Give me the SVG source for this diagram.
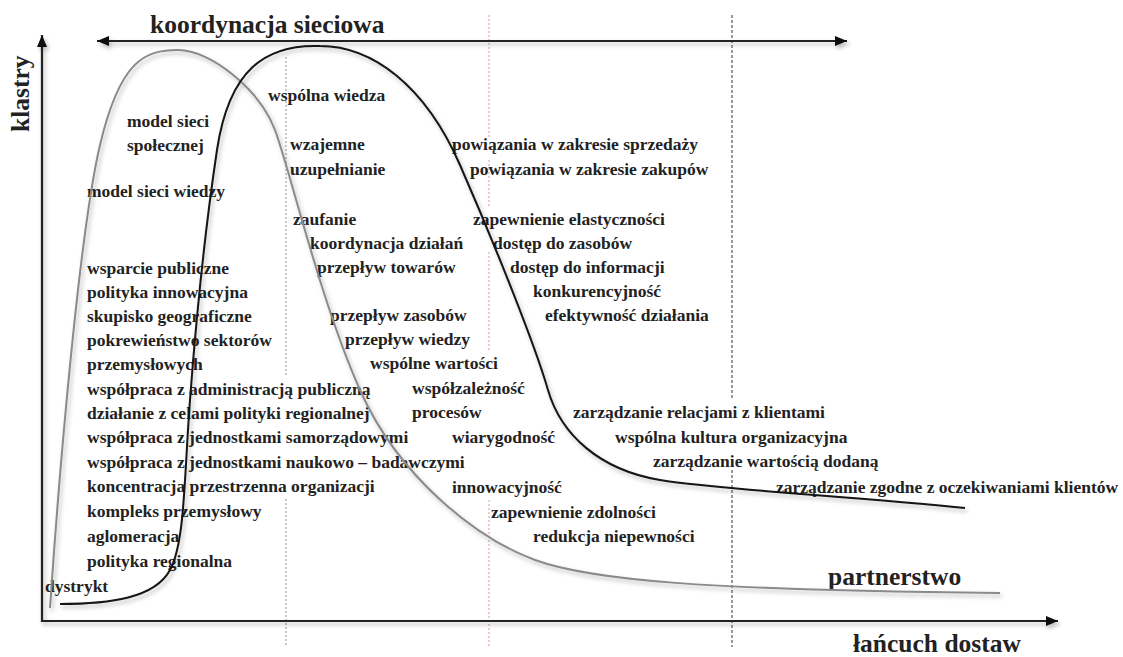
<svg xmlns="http://www.w3.org/2000/svg" width="1123" height="657" viewBox="0 0 1123 657">
  <style>
    .lbl { font-family: "Liberation Serif", "Times New Roman", serif; font-weight: bold; font-size: 17.5px; fill: #222; }
    .big { font-family: "Liberation Serif", "Times New Roman", serif; font-weight: bold; font-size: 25.5px; fill: #222; }
    .guide1 { stroke: #8f8f8f; stroke-width: 1; stroke-dasharray: 2 2; fill: none; }
    .guide2 { stroke: #d49a9a; stroke-width: 1; stroke-dasharray: 2 2; fill: none; }
    .guide3 { stroke: #333; stroke-width: 1; stroke-dasharray: 3 2; fill: none; }
    .axis { stroke: #222; stroke-width: 2.2; fill: none; }
    .curve-dark { stroke: #141414; stroke-width: 2; fill: none; }
    .curve-grey { stroke: #8a8a8a; stroke-width: 2; fill: none; }
  </style>
  <defs>
    <marker id="head" markerUnits="userSpaceOnUse" markerWidth="12" markerHeight="10" refX="12" refY="5" orient="auto-start-reverse">
      <path d="M0,0 L12,5 L0,10 z" fill="#111"/>
    </marker>
    <filter id="shade" x="-5%" y="-5%" width="110%" height="115%">
      <feDropShadow dx="2" dy="3" stdDeviation="2" flood-color="#000" flood-opacity="0.28"/>
    </filter>
  </defs>

  <rect width="1123" height="657" fill="#fff"/>

  <!-- dotted phase separators -->
  <g id="guides">
    <path class="guide1" d="M286,57 V377 M286,499 V647"/>
    <path class="guide2" d="M489,15 V138 M489,160 V206 M489,252 V350 M489,500 V647"/>
    <path class="guide3" d="M732,15 V400 M732,470 V647"/>
  </g>

  <!-- axis titles -->
  <g id="titles">
    <text class="big" x="150" y="33">koordynacja sieciowa</text>
    <text class="big" transform="translate(29,132) rotate(-90)">klastry</text>
    <text class="big" x="828" y="585">partnerstwo</text>
    <text class="big" x="853" y="652">łańcuch dostaw</text>
  </g>

  <!-- cluster-phase features (left column) -->
  <g id="cluster-labels">
    <text class="lbl" x="127" y="127">model sieci</text>
    <text class="lbl" x="127" y="151">społecznej</text>
    <text class="lbl" x="87" y="197">model sieci wiedzy</text>
    <text class="lbl" x="87" y="274">wsparcie publiczne</text>
    <text class="lbl" x="87" y="298">polityka innowacyjna</text>
    <text class="lbl" x="87" y="322">skupisko geograficzne</text>
    <text class="lbl" x="87" y="346">pokrewieństwo sektorów</text>
    <text class="lbl" x="87" y="370">przemysłowych</text>
    <text class="lbl" x="87" y="395">współpraca z administracją publiczną</text>
    <text class="lbl" x="87" y="419">działanie z celami polityki regionalnej</text>
    <text class="lbl" x="87" y="443">współpraca z jednostkami samorządowymi</text>
    <text class="lbl" x="87" y="468">współpraca z jednostkami naukowo – badawczymi</text>
    <text class="lbl" x="87" y="492">koncentracja przestrzenna organizacji</text>
    <text class="lbl" x="87" y="517">kompleks przemysłowy</text>
    <text class="lbl" x="87" y="542">aglomeracja</text>
    <text class="lbl" x="87" y="567">polityka regionalna</text>
    <text class="lbl" x="45" y="592">dystrykt</text>
  </g>

  <!-- network-coordination features (middle column) -->
  <g id="network-labels">
    <text class="lbl" x="268" y="101">wspólna wiedza</text>
    <text class="lbl" x="290" y="150">wzajemne</text>
    <text class="lbl" x="290" y="175">uzupełnianie</text>
    <text class="lbl" x="293" y="225">zaufanie</text>
    <text class="lbl" x="310" y="249">koordynacja działań</text>
    <text class="lbl" x="317" y="273">przepływ towarów</text>
    <text class="lbl" x="330" y="321">przepływ zasobów</text>
    <text class="lbl" x="345" y="345">przepływ wiedzy</text>
    <text class="lbl" x="370" y="369">wspólne wartości</text>
    <text class="lbl" x="412" y="394">współzależność</text>
    <text class="lbl" x="412" y="418">procesów</text>
    <text class="lbl" x="452" y="443">wiarygodność</text>
    <text class="lbl" x="452" y="493">innowacyjność</text>
    <text class="lbl" x="491" y="518">zapewnienie zdolności</text>
    <text class="lbl" x="533" y="542">redukcja niepewności</text>
  </g>

  <!-- supply-chain features (right column) -->
  <g id="supply-labels">
    <text class="lbl" x="452" y="150">powiązania w zakresie sprzedaży</text>
    <text class="lbl" x="470" y="175">powiązania w zakresie zakupów</text>
    <text class="lbl" x="473" y="225">zapewnienie elastyczności</text>
    <text class="lbl" x="493" y="249">dostęp do zasobów</text>
    <text class="lbl" x="510" y="273">dostęp do informacji</text>
    <text class="lbl" x="533" y="297">konkurencyjność</text>
    <text class="lbl" x="545" y="321">efektywność działania</text>
    <text class="lbl" x="573" y="418">zarządzanie relacjami z klientami</text>
    <text class="lbl" x="615" y="443">wspólna kultura organizacyjna</text>
    <text class="lbl" x="653" y="467">zarządzanie wartością dodaną</text>
    <text class="lbl" x="776" y="493">zarządzanie zgodne z oczekiwaniami klientów</text>
  </g>

  <!-- axes, arrows and curves -->
  <g id="connectors" filter="url(#shade)">
    <path class="axis" d="M42,35 L42,621 L1058,621" marker-start="url(#head)" marker-end="url(#head)"/>
    <path class="axis" stroke-width="1.8" d="M97,41 L847,41" marker-start="url(#head)" marker-end="url(#head)"/>
    <path id="curve-partnership" class="curve-grey"
          d="M50,608 C60,460 80,230 100,145 C120,60 145,50 178,50 S260,90 275,130 C290,170 320,300 360,390 S480,540 535,560 C590,580 700,590 1000,593"/>
    <path id="curve-network" class="curve-dark"
          d="M60,604 C110,604 155,598 170,570 S184,480 190,400 S205,230 217,150 S265,44 320,46 C372,46 425,85 460,165 S535,345 548,390 S600,470 660,480 S850,496 965,508"/>
  </g>
</svg>
